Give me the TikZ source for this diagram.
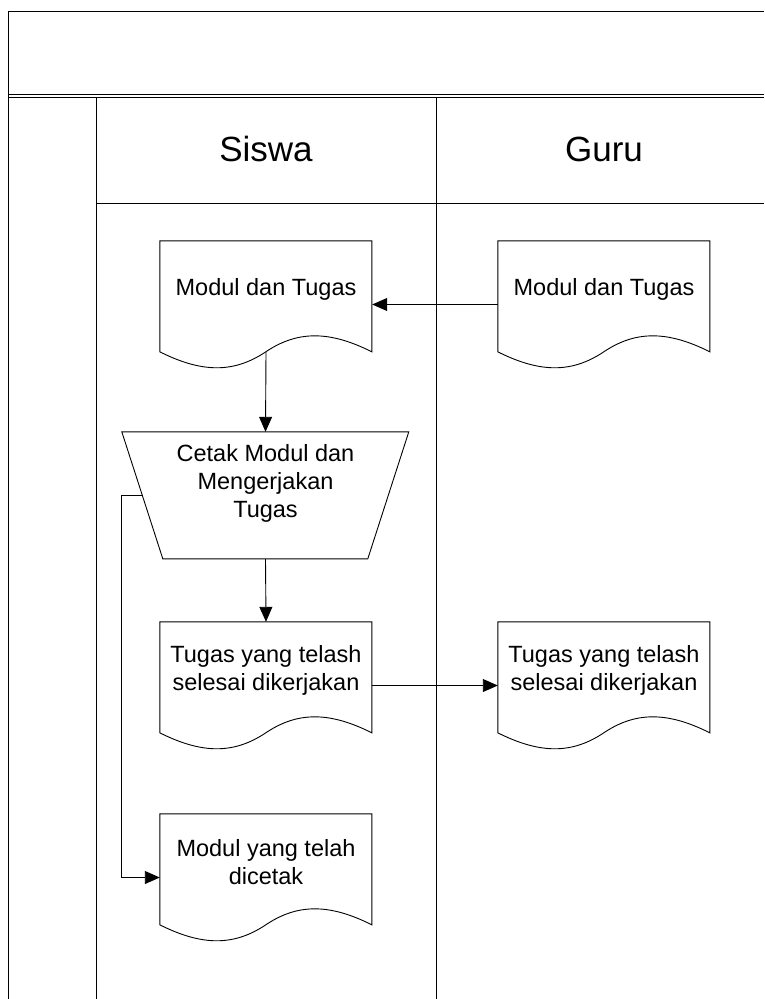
\documentclass[tikz,border=0pt]{standalone}
\usepackage{fontspec}
\setmainfont{Liberation Sans}
\usepackage{tikz}
\usetikzlibrary{calc,positioning,arrows.meta,shapes.geometric}

\tikzset{
  lane/.style={line width=0.9pt},
  lanehead/.style={font=\fontsize{35}{42}\selectfont},
  docbox/.style={minimum width=212pt, minimum height=127pt, inner sep=0pt},
  doctext/.style={align=center, font=\fontsize{23.5}{28}\selectfont, inner sep=0pt},
  procbox/.style={minimum width=287pt, minimum height=127pt, inner sep=0pt},
  flow/.style={line width=0.9pt, -{Triangle[length=15pt,width=13pt]}}
}
% document symbol with wavy bottom, drawn round an empty docbox node
\newcommand\docoutline[1]{%
  \draw[lane, shift={(#1.north west)}] (0,111) -- (0,0) -- (212,0) -- (212,111)
    .. controls (169.6,89.7) and (137.8,89.7) .. (106,111)
    .. controls (74.2,132.3) and (42.4,132.3) .. (0,111) -- cycle;}
% manual operation, upside-down trapezium round a procbox node
\newcommand\manualoutline[1]{%
  \draw[lane, shift={(#1.north west)}] (0,0) -- (287,0) -- (246,127) -- (41,127) -- cycle;}

\begin{document}
\begin{tikzpicture}[x=1pt,y=-1pt]
  \useasboundingbox (0,0) rectangle (764,999);
  % frame and lanes
  \draw[lane] (8,999) -- (8,11) -- (764,11);
  \draw[lane] (8,94) -- (764,94);
  \draw[lane] (8,97) -- (764,97);
  \draw[lane] (96,97) -- (96,999);
  \draw[lane] (436,97) -- (436,999);
  \draw[lane] (96,203) -- (764,203);
  \node[lanehead] (siswa) at (266,149) {Siswa};
  \node[lanehead] (guru) at (604,149) {Guru};

  % documents
  \node[docbox] (modS) at (266,304.5) {};
  \node[docbox] (modG) at (604,304.5) {};
  \node[docbox] (tugS) at (266,685.5) {};
  \node[docbox] (tugG) at (604,685.5) {};
  \node[docbox] (cetakan) at (266,877.5) {};
  \docoutline{modS}
  \docoutline{modG}
  \docoutline{tugS}
  \docoutline{tugG}
  \docoutline{cetakan}
  \node[doctext] (modS-t) at ([yshift=15pt]modS.center) {Modul dan Tugas};
  \node[doctext] (modG-t) at ([yshift=15pt]modG.center) {Modul dan Tugas};
  \node[doctext] (tugS-t) at ([yshift=15pt]tugS.center) {Tugas yang telash\\selesai dikerjakan};
  \node[doctext] (tugG-t) at ([yshift=15pt]tugG.center) {Tugas yang telash\\selesai dikerjakan};
  \node[doctext] (cetakan-t) at ([yshift=15pt]cetakan.center) {Modul yang telah\\dicetak};

  % manual operation
  \node[procbox] (cetak) at (265.5,495.5) {};
  \manualoutline{cetak}
  \node[doctext] (cetak-t) at ([yshift=12pt]cetak.center) {Cetak Modul dan\\Mengerjakan\\Tugas};

  % flows
  \draw[flow] (modG.west) -- (modS.east);
  \draw[flow] ([yshift=16pt]modS.south) -- (cetak.north);
  \draw[flow] (cetak.south) -- (tugS.north);
  \draw[flow] (tugS.east) -- (tugG.west);
  \draw[flow] ([xshift=20.5pt]cetak.west) -| ([xshift=-38pt]cetakan.west) -- (cetakan.west);
\end{tikzpicture}
\end{document}
